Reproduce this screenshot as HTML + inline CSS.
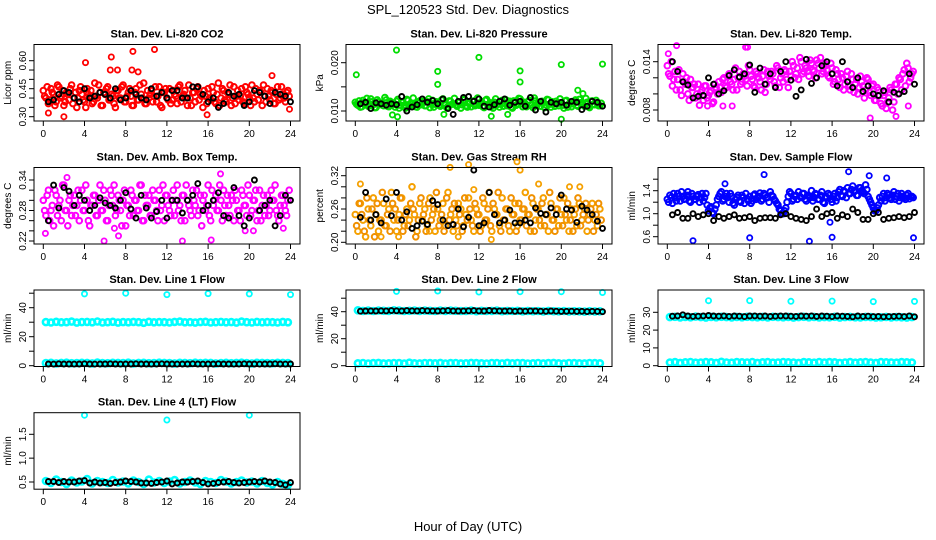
<!DOCTYPE html>
<html><head><meta charset="utf-8"><style>
html,body{margin:0;padding:0;background:#fff;}
svg{display:block;font-family:"Liberation Sans",sans-serif;}
</style></head><body>
<svg id="chart" width="936" height="540" viewBox="0 0 936 540" xmlns="http://www.w3.org/2000/svg">
<text x="468" y="14" text-anchor="middle" font-size="13">SPL_120523  Std. Dev. Diagnostics</text>
<text x="468" y="531" text-anchor="middle" font-size="13">Hour of Day (UTC)</text>
</svg>
<script>
const hourTicks=[0,4,8,12,16,20,24];
// CO2
const co2Col=[0.44,0.40,0.37,0.45,0.42,0.38,0.46,0.41,0.36,0.43,0.39,0.47,0.40,0.35,0.44,0.42,0.38,0.45,0.41,0.37,0.48,0.40,0.43,0.36,0.42,0.46,0.39,0.41,0.35,0.44,0.40,0.47,0.38,0.43,0.41,0.36,0.45,0.39,0.42,0.48,0.37,0.40,0.44,0.41,0.38,0.46,0.35,0.43,0.40,0.45,0.39,0.42,0.37,0.47,0.41,0.44,0.36,0.40,0.43,0.38,0.46,0.42,0.35,0.41,0.45,0.39,0.43,0.37,0.48,0.40,0.44,0.38,0.42,0.36,0.46,0.41,0.39,0.45,0.37,0.43,0.40,0.47,0.38,0.42,0.44,0.36,0.41,0.45,0.39,0.43,0.37,0.46,0.40,0.42,0.38,0.44];
const co2Col2=[0.41,0.46,0.39,0.43,0.36,0.47,0.40,0.44,0.38,0.42,0.45,0.37,0.43,0.40,0.46,0.39,0.35,0.42,0.44,0.38,0.41,0.47,0.36,0.43,0.45,0.39,0.42,0.37,0.44,0.40,0.46,0.38,0.41,0.45,0.36,0.43,0.39,0.47,0.40,0.37,0.44,0.42,0.38,0.46,0.41,0.36,0.43,0.45,0.39,0.37,0.44,0.41,0.46,0.38,0.42,0.40,0.47,0.36,0.43,0.45,0.39,0.41,0.44,0.37,0.40,0.46,0.38,0.42,0.36,0.45,0.39,0.43,0.47,0.40,0.37,0.44,0.41,0.38,0.46,0.42,0.36,0.40,0.45,0.39,0.43,0.47,0.38,0.41,0.44,0.37,0.42,0.39,0.46,0.40,0.43,0.41];
const co2OutT=[4.1,6.6,6.5,7.2,8.7,8.6,9.2,10.8,0.5,2.0,15.9,22.2,23.9];
const co2OutV=[0.59,0.62,0.55,0.55,0.65,0.55,0.54,0.66,0.32,0.30,0.31,0.52,0.34];
const co2Blk=[0.38,0.39,0.42,0.44,0.43,0.40,0.38,0.45,0.40,0.41,0.43,0.42,0.40,0.45,0.39,0.40,0.44,0.42,0.40,0.39,0.45,0.41,0.43,0.40,0.44,0.44,0.40,0.40,0.46,0.46,0.42,0.38,0.40,0.35,0.37,0.43,0.41,0.42,0.36,0.38,0.44,0.43,0.41,0.37,0.43,0.42,0.41,0.38];
// Pressure
const presCol=[0.0118,0.0112,0.0108,0.0122,0.0115,0.0110,0.0125,0.0113,0.0107,0.0119,0.0116,0.0111,0.0123,0.0109,0.0117,0.0114,0.0120,0.0106,0.0118,0.0112,0.0124,0.0110,0.0116,0.0113,0.0108,0.0121,0.0115,0.0111,0.0119,0.0107,0.0122,0.0114,0.0117,0.0110,0.0125,0.0112,0.0108,0.0120,0.0115,0.0113,0.0118,0.0106,0.0123,0.0111,0.0116,0.0109,0.0121,0.0114,0.0112,0.0119,0.0107,0.0124,0.0115,0.0110,0.0118,0.0113,0.0108,0.0122,0.0116,0.0111,0.0120,0.0106,0.0117,0.0114,0.0125,0.0109,0.0115,0.0119,0.0112,0.0107,0.0121,0.0116,0.0110,0.0118,0.0113,0.0123,0.0108,0.0115,0.0120,0.0111,0.0117,0.0106,0.0122,0.0114,0.0109,0.0119,0.0112,0.0124,0.0116,0.0110,0.0118,0.0107,0.0121,0.0113,0.0115,0.0111];
const presCol2=[0.0114,0.0121,0.0109,0.0117,0.0126,0.0111,0.0119,0.0107,0.0123,0.0113,0.0116,0.0128,0.0110,0.0120,0.0115,0.0108,0.0124,0.0112,0.0118,0.0106,0.0122,0.0114,0.0127,0.0109,0.0117,0.0113,0.0120,0.0111,0.0125,0.0115,0.0108,0.0119,0.0112,0.0123,0.0116,0.0107,0.0121,0.0114,0.0126,0.0110,0.0118,0.0113,0.0124,0.0108,0.0116,0.0120,0.0111,0.0127,0.0115,0.0109,0.0122,0.0113,0.0117,0.0106,0.0125,0.0114,0.0119,0.0110,0.0123,0.0116,0.0108,0.0121,0.0112,0.0126,0.0115,0.0118,0.0109,0.0122,0.0113,0.0127,0.0111,0.0117,0.0120,0.0107,0.0124,0.0114,0.0119,0.0110,0.0116,0.0125,0.0112,0.0121,0.0108,0.0118,0.0115,0.0123,0.0110,0.0117,0.0113,0.0126,0.0109,0.0120,0.0114,0.0122,0.0111,0.0116];
const presOutT=[0.1,4.0,8.0,8.0,12.0,16.0,16.0,20.0,24.0,21.6,22.1,3.6,4.1,13.2,20.0,8.6,14.8];
const presOutV=[0.0175,0.0226,0.0182,0.0155,0.0211,0.0183,0.0160,0.0196,0.0197,0.0143,0.0136,0.0092,0.0088,0.0089,0.0083,0.0093,0.0093];
const presBlk=[0.0115,0.0118,0.0105,0.0117,0.0115,0.0112,0.0115,0.0113,0.0130,0.0100,0.0108,0.0113,0.0125,0.0118,0.0122,0.0115,0.0125,0.0105,0.0093,0.0120,0.0128,0.0130,0.0120,0.0125,0.0110,0.0108,0.0113,0.0120,0.0125,0.0112,0.0118,0.0120,0.0110,0.0128,0.0102,0.0120,0.0098,0.0118,0.0115,0.0118,0.0112,0.0120,0.0118,0.0103,0.0110,0.0120,0.0118,0.0110];
// Li-820 temp
const tempCol=[0.0135,0.0122,0.0110,0.0128,0.0118,0.0105,0.0125,0.0112,0.0100,0.0118,0.0108,0.0095,0.0112,0.0102,0.0092,0.0110,0.0098,0.0104,0.0090,0.0108,0.0115,0.0102,0.0120,0.0108,0.0125,0.0112,0.0118,0.0105,0.0128,0.0115,0.0122,0.0110,0.0130,0.0118,0.0108,0.0125,0.0115,0.0122,0.0102,0.0128,0.0118,0.0125,0.0110,0.0132,0.0120,0.0115,0.0128,0.0108,0.0122,0.0135,0.0125,0.0118,0.0140,0.0128,0.0132,0.0122,0.0138,0.0128,0.0142,0.0132,0.0125,0.0138,0.0130,0.0120,0.0132,0.0115,0.0125,0.0108,0.0120,0.0112,0.0128,0.0105,0.0118,0.0112,0.0100,0.0122,0.0110,0.0105,0.0118,0.0098,0.0112,0.0092,0.0105,0.0088,0.0098,0.0082,0.0095,0.0105,0.0090,0.0112,0.0120,0.0105,0.0130,0.0138,0.0115,0.0125];
const tempCol2=[0.0125,0.0140,0.0118,0.0105,0.0130,0.0098,0.0115,0.0120,0.0092,0.0108,0.0112,0.0100,0.0086,0.0105,0.0110,0.0095,0.0102,0.0088,0.0112,0.0100,0.0108,0.0118,0.0110,0.0122,0.0115,0.0105,0.0132,0.0120,0.0112,0.0125,0.0118,0.0135,0.0122,0.0110,0.0128,0.0120,0.0105,0.0130,0.0112,0.0122,0.0128,0.0115,0.0135,0.0108,0.0125,0.0130,0.0118,0.0128,0.0140,0.0120,0.0132,0.0145,0.0125,0.0135,0.0128,0.0142,0.0130,0.0120,0.0138,0.0145,0.0128,0.0135,0.0122,0.0138,0.0112,0.0130,0.0118,0.0125,0.0105,0.0122,0.0110,0.0125,0.0102,0.0118,0.0108,0.0115,0.0095,0.0120,0.0102,0.0110,0.0092,0.0108,0.0098,0.0085,0.0102,0.0090,0.0108,0.0080,0.0112,0.0100,0.0118,0.0125,0.0110,0.0132,0.0120,0.0128];
const tempOutT=[0.1,0.9,7.6,7.8,19.7,22.2,23.4,3.9,5.4,6.3];
const tempOutV=[0.0150,0.0160,0.0158,0.0158,0.0070,0.0072,0.0085,0.0085,0.0085,0.0085];
const tempBlk=[0.0140,0.0128,0.0115,0.0111,0.0095,0.0097,0.0098,0.0120,0.0112,0.0100,0.0104,0.0123,0.0130,0.0121,0.0125,0.0136,0.0102,0.0132,0.0112,0.0125,0.0108,0.0128,0.0140,0.0117,0.0097,0.0105,0.0143,0.0113,0.0120,0.0135,0.0140,0.0125,0.0110,0.0140,0.0115,0.0108,0.0120,0.0103,0.0110,0.0100,0.0098,0.0104,0.0090,0.0102,0.0100,0.0103,0.0125,0.0112];
// Amb box temp
const ambCol=[0.30,0.27,0.32,0.28,0.25,0.31,0.29,0.26,0.33,0.28,0.30,0.27,0.31,0.29,0.26,0.32,0.28,0.30,0.25,0.29,0.31,0.27,0.33,0.28,0.30,0.26,0.32,0.29,0.27,0.31,0.28,0.30,0.25,0.29,0.32,0.27,0.30,0.28,0.33,0.26,0.29,0.31,0.27,0.30,0.28,0.32,0.29,0.26,0.31,0.28,0.30,0.27,0.33,0.29,0.31,0.26,0.30,0.28,0.32,0.29,0.27,0.31,0.30,0.28,0.33,0.26,0.29,0.31,0.28,0.30,0.32,0.27,0.29,0.31,0.26,0.30,0.28,0.32,0.29,0.27,0.31,0.28,0.30,0.26,0.32,0.29,0.27,0.31,0.28,0.30,0.33,0.27,0.29,0.31,0.28,0.30];
const ambCol2=[0.28,0.31,0.26,0.29,0.32,0.27,0.30,0.33,0.28,0.25,0.31,0.29,0.27,0.32,0.30,0.28,0.33,0.26,0.29,0.31,0.27,0.30,0.28,0.32,0.26,0.29,0.31,0.33,0.28,0.30,0.25,0.32,0.29,0.27,0.31,0.30,0.28,0.33,0.26,0.31,0.29,0.27,0.32,0.30,0.26,0.28,0.33,0.31,0.29,0.27,0.32,0.30,0.28,0.26,0.31,0.33,0.29,0.27,0.30,0.32,0.28,0.25,0.31,0.29,0.27,0.32,0.30,0.28,0.33,0.26,0.29,0.31,0.27,0.30,0.32,0.28,0.26,0.31,0.29,0.33,0.27,0.30,0.32,0.28,0.26,0.31,0.29,0.27,0.32,0.30,0.28,0.26,0.31,0.29,0.27,0.32];
const ambOutT=[0.2,2.3,5.9,6.9,7.3,13.5,16.3,17.2,19.6,20.4,23.3];
const ambOutV=[0.235,0.345,0.22,0.245,0.23,0.22,0.222,0.352,0.24,0.24,0.245];
const ambBlk=[0.26,0.33,0.285,0.325,0.318,0.29,0.31,0.30,0.28,0.29,0.305,0.295,0.29,0.285,0.30,0.315,0.283,0.265,0.31,0.285,0.265,0.278,0.30,0.265,0.30,0.30,0.275,0.30,0.31,0.333,0.28,0.29,0.30,0.315,0.27,0.265,0.325,0.27,0.25,0.265,0.34,0.28,0.29,0.30,0.25,0.27,0.31,0.30];
// RH
const rhCol=[0.25,0.22,0.27,0.24,0.21,0.26,0.23,0.28,0.25,0.22,0.24,0.27,0.23,0.26,0.29,0.24,0.22,0.25,0.28,0.23,0.26,0.24,0.30,0.25,0.22,0.27,0.24,0.26,0.23,0.28,0.25,0.22,0.26,0.24,0.27,0.23,0.29,0.25,0.22,0.24,0.27,0.26,0.23,0.25,0.28,0.24,0.22,0.26,0.25,0.23,0.27,0.24,0.29,0.22,0.26,0.25,0.23,0.28,0.24,0.26,0.22,0.25,0.27,0.23,0.24,0.26,0.29,0.25,0.22,0.27,0.24,0.26,0.23,0.28,0.25,0.22,0.27,0.24,0.26,0.23,0.25,0.28,0.24,0.22,0.26,0.25,0.23,0.27,0.24,0.26,0.22,0.25,0.27,0.24,0.23,0.26];
const rhCol2=[0.23,0.27,0.25,0.22,0.28,0.24,0.26,0.21,0.27,0.24,0.29,0.23,0.25,0.22,0.27,0.26,0.24,0.28,0.22,0.25,0.23,0.27,0.26,0.21,0.24,0.28,0.25,0.22,0.27,0.24,0.26,0.29,0.23,0.25,0.22,0.28,0.24,0.26,0.27,0.23,0.25,0.22,0.28,0.24,0.26,0.23,0.27,0.25,0.22,0.28,0.24,0.26,0.23,0.27,0.25,0.29,0.22,0.24,0.26,0.23,0.28,0.25,0.22,0.27,0.24,0.26,0.23,0.25,0.28,0.22,0.26,0.24,0.27,0.23,0.25,0.29,0.24,0.22,0.26,0.28,0.23,0.25,0.27,0.24,0.22,0.26,0.28,0.23,0.25,0.27,0.24,0.26,0.22,0.25,0.27,0.24];
const rhOutT=[0.5,2.5,9.2,11.0,11.5,15.7,16.0,17.8,20.8,21.8,4.2,7.2,10.0,13.2];
const rhOutV=[0.305,0.21,0.335,0.34,0.295,0.345,0.33,0.305,0.30,0.30,0.21,0.22,0.21,0.205];
const rhBlk=[0.245,0.29,0.24,0.25,0.235,0.278,0.248,0.29,0.24,0.255,0.225,0.23,0.238,0.232,0.275,0.268,0.24,0.23,0.232,0.26,0.228,0.245,0.33,0.23,0.235,0.29,0.25,0.235,0.24,0.258,0.235,0.235,0.24,0.235,0.262,0.252,0.25,0.262,0.25,0.285,0.26,0.258,0.236,0.265,0.258,0.25,0.238,0.225];
// Sample flow
const flowCol=[1.25,1.32,1.18,1.28,1.35,1.22,1.30,1.26,1.38,1.20,1.30,1.25,1.33,1.28,1.22,1.35,1.05,1.12,1.00,1.15,1.30,1.38,1.25,1.35,1.20,1.30,1.15,1.28,1.22,1.32,1.18,1.26,1.30,1.22,1.34,1.28,1.36,1.25,1.32,1.28,1.38,1.30,1.22,1.15,1.05,1.00,1.10,1.30,1.35,1.25,1.32,1.38,1.28,1.35,1.22,1.30,1.40,1.28,1.33,1.25,1.38,1.18,1.28,1.32,1.20,1.35,1.28,1.42,1.30,1.38,1.45,1.35,1.48,1.40,1.32,1.45,1.38,1.50,1.30,1.20,1.10,1.05,1.15,1.22,1.35,1.28,1.32,1.25,1.38,1.30,1.22,1.35,1.28,1.32,1.26,1.30];
const flowCol2=[1.20,1.28,1.35,1.22,1.30,1.38,1.25,1.32,1.22,1.35,1.25,1.30,1.20,1.35,1.28,1.15,1.10,1.02,1.08,1.25,1.35,1.22,1.30,1.28,1.35,1.18,1.25,1.32,1.20,1.28,1.35,1.22,1.18,1.32,1.25,1.30,1.22,1.35,1.28,1.20,1.32,1.25,1.18,1.08,1.00,1.05,1.20,1.38,1.22,1.30,1.25,1.30,1.35,1.25,1.32,1.28,1.22,1.35,1.25,1.32,1.20,1.30,1.35,1.25,1.30,1.22,1.38,1.32,1.40,1.28,1.35,1.42,1.38,1.32,1.45,1.40,1.35,1.42,1.25,1.15,1.05,1.10,1.28,1.30,1.22,1.35,1.28,1.32,1.25,1.35,1.28,1.30,1.25,1.35,1.30,1.28];
const flowOutT=[2.5,8.0,13.8,16.0,23.9,9.4,17.6,19.6,21.3,5.6,15.8];
const flowOutV=[0.53,0.58,0.52,0.59,0.58,1.68,1.73,1.66,1.62,1.52,0.85];
const flowBlk=[0.98,1.02,0.92,0.92,1.0,0.95,0.98,1.0,0.88,0.95,0.92,0.95,0.98,0.92,0.93,0.95,0.88,0.92,0.93,0.93,0.92,0.98,1.0,0.95,0.92,0.90,0.88,0.95,1.08,0.95,1.0,1.02,0.92,0.98,0.95,1.08,1.02,0.90,0.90,1.0,1.02,0.90,0.92,0.93,0.95,0.93,0.95,1.02];
// Line flows
const lineBase=[1.8,2.0,1.6,1.9,2.1,1.7,1.8,2.0,1.9,1.6,2.2,1.8,1.7,2.0,1.9,1.8,2.1,1.6,1.9,2.0,1.7,1.8,2.1,1.9,1.8,1.6,2.0,1.9,1.7,2.1,1.8,2.0,1.9,1.6,1.8,2.0,1.7,1.9,2.1,1.8,1.6,2.0,1.9,1.8,1.7,2.0,1.9,1.8];
const l1Band=[30.1,29.8,30.3,29.9,30.0,30.4,29.7,30.1,30.2,29.9,30.5,29.8,30.0,30.3,29.7,30.1,29.9,30.2,30.0,29.6,30.3,29.9,30.1,30.0,29.8,30.2,30.4,29.9,30.0,29.7,30.1,30.3,29.8,30.0,30.2,29.9,30.1,29.7,30.4,30.0,29.8,30.2,29.9,30.1,30.0,29.8,30.2,29.9];
const l1Blk=[1.2,1.1,1.3,1.2,1.2,1.1,1.2,1.3,1.2,1.1,1.2,1.2,1.3,1.2,1.1,1.2,1.2,1.3,1.2,1.2,1.1,1.2,1.3,1.2,1.2,1.1,1.2,1.2,1.3,1.2,1.1,1.2,1.2,1.3,1.2,1.2,1.1,1.2,1.3,1.2,1.2,1.1,1.2,1.2,1.3,1.2,1.1,1.2];
const l1OutT=[4,8,12,16,20,24];
const l1OutV=[49.5,50,49,49.7,49.5,49];
const l2Band=[41.0,40.6,40.8,40.5,40.9,40.7,40.6,41.0,40.8,40.5,40.7,40.9,40.6,40.8,40.7,40.5,40.9,40.6,40.8,40.7,40.5,40.6,40.8,40.4,40.7,40.5,40.6,40.8,40.4,40.6,40.5,40.7,40.3,40.6,40.4,40.5,40.2,40.6,40.4,40.3,40.5,40.2,40.4,40.3,40.1,40.4,40.2,40.3];
const l2Blk=[40.4,40.5,40.6,40.5,40.7,40.6,40.8,40.7,40.6,40.8,40.7,40.6,40.8,40.7,40.6,40.5,40.7,40.8,40.6,40.5,40.6,40.7,40.8,40.6,40.5,40.9,40.7,40.6,40.5,40.6,40.3,40.5,40.4,40.6,40.5,40.4,40.3,40.5,40.4,40.2,40.3,40.4,40.2,40.3,40.1,40.3,40.2,40.0];
const l2OutT=[4,8,12,16,20,24];
const l2OutV=[55,55.3,54.6,54.8,54.8,54.2];
const l3Band=[27.3,27.5,27.1,27.4,27.2,27.6,27.3,27.0,27.4,27.2,27.5,27.3,27.1,27.4,27.2,27.5,27.3,27.2,27.4,27.1,27.5,27.3,27.2,27.4,27.0,27.3,27.5,27.2,27.4,27.1,27.3,27.2,27.5,27.0,27.3,27.4,27.2,27.1,27.4,27.3,27.0,27.2,27.4,27.1,27.3,27.2,27.0,27.3];
const l3Blk=[27.8,28.0,28.6,27.9,27.7,27.8,28.0,28.2,27.9,27.8,28.0,27.7,27.9,27.8,27.6,27.9,28.0,27.8,27.9,27.7,27.8,28.0,27.9,27.8,27.7,27.9,27.8,28.0,27.7,27.9,27.8,27.6,27.9,27.8,27.7,27.5,27.9,27.7,27.8,27.6,27.7,27.5,27.6,27.7,27.8,27.6,28.0,27.5];
const l3OutT=[4,8,12,16,20,24];
const l3OutV=[36.5,36.6,36.2,36.3,36.0,36.1];
const l4Band=[0.52,0.48,0.55,0.50,0.46,0.53,0.49,0.51,0.56,0.47,0.52,0.50,0.48,0.54,0.49,0.51,0.47,0.53,0.50,0.46,0.55,0.49,0.52,0.48,0.51,0.54,0.47,0.50,0.53,0.49,0.46,0.52,0.50,0.48,0.54,0.51,0.47,0.50,0.53,0.49,0.51,0.47,0.52,0.48,0.45,0.50,0.46,0.44];
const l4Blk=[0.51,0.51,0.49,0.51,0.50,0.50,0.52,0.53,0.48,0.50,0.48,0.49,0.47,0.49,0.50,0.52,0.51,0.50,0.48,0.48,0.47,0.49,0.50,0.52,0.46,0.48,0.50,0.50,0.51,0.52,0.49,0.46,0.47,0.49,0.50,0.51,0.49,0.48,0.49,0.50,0.51,0.50,0.52,0.50,0.49,0.46,0.44,0.49];
const l4OutT=[4,12,20];
const l4OutV=[1.9,1.8,1.9];

// observation times
const hours96=[];for(let i=0;i<96;i++)hours96.push(i*0.25);
const hours96b=[];for(let i=0;i<96;i++)hours96b.push(i*0.25+0.125);
const hours48=[];for(let i=0;i<48;i++)hours48.push(0.5+i*0.5);
const hoursBand=[];for(let i=0;i<48;i++)hoursBand.push(0.25+i*0.5);

const panels=[
 {name:'co2',title:'Stan. Dev. Li-820 CO2',ylab:'Licor ppm',col:0,row:0,cal:[0.30,116.7,0.60,60.7],ticks:[0.30,0.35,0.40,0.45,0.50,0.55,0.60],labels:['0.30','0.45','0.60'],labelVals:[0.30,0.45,0.60],
  series:[[hours96,co2Col,'#ff0000','d'],[hours96b,co2Col2,'#ff0000','d'],[co2OutT,co2OutV,'#ff0000','o'],[hours48,co2Blk,'#000','k']]},
 {name:'pressure',title:'Stan. Dev. Li-820 Pressure',ylab:'kPa',col:1,row:0,cal:[0.010,111,0.020,62.7],ticks:[0.010,0.015,0.020],labels:['0.010','0.020'],labelVals:[0.010,0.020],
  series:[[hours96,presCol,'#00dd00','d'],[hours96b,presCol2,'#00dd00','d'],[presOutT,presOutV,'#00dd00','o'],[hours48,presBlk,'#000','k']]},
 {name:'li820-temp',title:'Stan. Dev. Li-820 Temp.',ylab:'degrees C',col:2,row:0,cal:[0.008,110,0.014,61.7],ticks:[0.008,0.010,0.012,0.014],labels:['0.008','0.014'],labelVals:[0.008,0.014],
  series:[[hours96,tempCol,'#ff00ff','d'],[hours96b,tempCol2,'#ff00ff','d'],[tempOutT,tempOutV,'#ff00ff','o'],[hours48,tempBlk,'#000','k']]},
 {name:'amb-box-temp',title:'Stan. Dev. Amb. Box Temp.',ylab:'degrees C',col:0,row:1,cal:[0.22,241,0.34,180],ticks:[0.22,0.24,0.26,0.28,0.30,0.32,0.34],labels:['0.22','0.28','0.34'],labelVals:[0.22,0.28,0.34],
  series:[[hours96,ambCol,'#ff00ff','d'],[hours96b,ambCol2,'#ff00ff','d'],[ambOutT,ambOutV,'#ff00ff','o'],[hours48,ambBlk,'#000','k']]},
 {name:'gas-rh',title:'Stan. Dev. Gas Stream RH',ylab:'percent',col:1,row:1,cal:[0.20,242.3,0.32,175.7],ticks:[0.20,0.22,0.24,0.26,0.28,0.30,0.32],labels:['0.20','0.26','0.32'],labelVals:[0.20,0.26,0.32],
  series:[[hours96,rhCol,'#f5a000','d'],[hours96b,rhCol2,'#f09000','d'],[rhOutT,rhOutV,'#f5a000','o'],[hours48,rhBlk,'#000','k']]},
 {name:'sample-flow',title:'Stan. Dev. Sample Flow',ylab:'ml/min',col:2,row:1,cal:[0.6,236.7,1.4,190.7],ticks:[0.6,0.8,1.0,1.2,1.4,1.6],labels:['0.6','1.0','1.4'],labelVals:[0.6,1.0,1.4],
  series:[[hours96,flowCol,'#0000ff','d'],[hours96b,flowCol2,'#0000ff','d'],[flowOutT,flowOutV,'#0000ff','o'],[hours48,flowBlk,'#000','k']]},
 {name:'line1-flow',title:'Stan. Dev. Line 1 Flow',ylab:'ml/min',col:0,row:2,cal:[0,365.7,40,307.7],ticks:[0,10,20,30,40,50],labels:['0','20','40'],labelVals:[0,20,40],
  series:[[hoursBand,l1Band,'#00ffff','b'],[hoursBand,lineBase,'#00ffff','b'],[l1OutT,l1OutV,'#00ffff','o'],[hours48,l1Blk,'#000','k']]},
 {name:'line2-flow',title:'Stan. Dev. Line 2 Flow',ylab:'ml/min',col:1,row:2,cal:[0,365.7,40,311.7],ticks:[0,10,20,30,40,50],labels:['0','20','40'],labelVals:[0,20,40],
  series:[[hoursBand,l2Band,'#00ffff','b'],[hoursBand,lineBase,'#00ffff','b'],[l2OutT,l2OutV,'#00ffff','o'],[hours48,l2Blk,'#000','k']]},
 {name:'line3-flow',title:'Stan. Dev. Line 3 Flow',ylab:'ml/min',col:2,row:2,cal:[0,365.7,30,312.3],ticks:[0,10,20,30],labels:['0','10','20','30'],labelVals:[0,10,20,30],
  series:[[hoursBand,l3Band,'#00ffff','b'],[hoursBand,lineBase,'#00ffff','b'],[l3OutT,l3OutV,'#00ffff','o'],[hours48,l3Blk,'#000','k']]},
 {name:'line4-flow',title:'Stan. Dev. Line 4 (LT) Flow',ylab:'ml/min',col:0,row:3,cal:[0.5,482,1.5,434.3],ticks:[0.5,1.0,1.5],labels:['0.5','1.0','1.5'],labelVals:[0.5,1.0,1.5],
  series:[[hoursBand,l4Band,'#00ffff','b'],[l4OutT,l4OutV,'#00ffff','o'],[hours48,l4Blk,'#000','k']]}
];
const styles={d:{r:2.8,w:2.0},o:{r:2.6,w:1.8},b:{r:3.0,w:2.6},k:{r:2.5,w:1.9}};

const NS='http://www.w3.org/2000/svg';
const svg=document.getElementById('chart');
const colLeft=[34,346,658], rowTop=[44.5,167.5,290,412.7], boxW=266, boxH=76.5;
function mk(tag,attrs,parent){const e=document.createElementNS(NS,tag);for(const k in attrs)e.setAttribute(k,attrs[k]);(parent||svg).appendChild(e);return e;}

panels.forEach(p=>{
  const L=colLeft[p.col],T=rowTop[p.row],B=T+boxH;
  const xs=t=>L+9.3+t*10.3;
  const [v1,y1,v2,y2]=p.cal;
  const ys=v=>y1+(v-v1)*(y2-y1)/(v2-v1);
  const g=mk('g',{});
  
  
  const t=mk('text',{x:L+boxW/2,y:T-7,'text-anchor':'middle','font-size':'11','font-weight':'bold'},g);
  t.textContent=p.title;
  
  
  const pts=mk('g',{fill:'none'},g);
  
  
  p.series.forEach(s=>{
    const [ts,vs,c,st]=s;
    const sty=styles[st];
    for(let i=0;i<vs.length;i++){
      const c1=mk('circle',{cx:xs(ts[i]).toFixed(1),cy:ys(vs[i]).toFixed(1),r:sty.r,stroke:c,'stroke-width':sty.w},pts);
      
      
    }
  });
  const box=mk('rect',{x:L,y:T,width:boxW,height:boxH,fill:'none',stroke:'#000','stroke-width':'1'},g);
  
  
  const xa=mk('g',{stroke:'#000','stroke-width':'1'},g);
  
  
  mk('line',{x1:xs(0),x2:xs(24),y1:B,y2:B},xa);
  hourTicks.forEach(h=>{
    mk('line',{x1:xs(h),x2:xs(h),y1:B,y2:B+5},xa);
    const tl=mk('text',{x:xs(h),y:B+16,'text-anchor':'middle','font-size':'10',stroke:'none',fill:'#000'},g);
    tl.textContent=h;
    
    
  });
  const ya=mk('g',{stroke:'#000','stroke-width':'1'},g);
  
  
  mk('line',{x1:L,x2:L,y1:ys(p.ticks[0]),y2:ys(p.ticks[p.ticks.length-1])},ya);
  p.ticks.forEach(v=>{mk('line',{x1:L-5,x2:L,y1:ys(v),y2:ys(v)},ya);});
  p.labelVals.forEach((v,i)=>{
    const x=L-8,y=ys(v);
    const yl=mk('text',{x:x,y:y,'text-anchor':'middle','font-size':'10',transform:`rotate(-90 ${x} ${y})`},g);
    yl.textContent=p.labels[i];
    
    
  });
  const yx=L-23,yy=T+boxH/2;
  const yt=mk('text',{x:yx,y:yy,'text-anchor':'middle','font-size':'10',transform:`rotate(-90 ${yx} ${yy})`},g);
  yt.textContent=p.ylab;
  
  
});
</script>
</body></html>
